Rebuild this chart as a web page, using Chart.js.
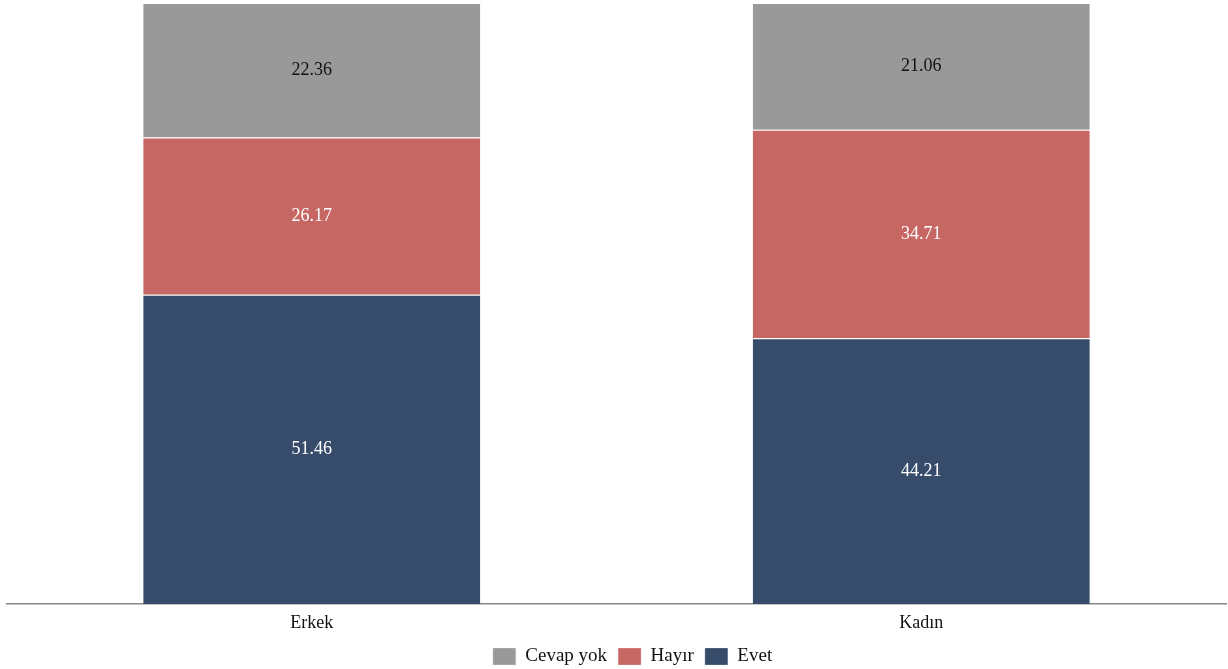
<!DOCTYPE html>
<html>
<head>
<meta charset="utf-8">
<script src="https://cdn.jsdelivr.net/npm/chart.js@4/dist/chart.umd.min.js"></script>
<style>
  html, body { margin: 0; padding: 0; background: #fff; }
  #wrap { width: 1228px; height: 669px; }
</style>
</head>
<body>
<div id="wrap"><canvas id="chart"></canvas></div>
<script>
const categories = ['Erkek', 'Kadın'];
const evet = [51.46, 44.21];
const hayir = [26.17, 34.71];
const cevapYok = [22.36, 21.06];

const font = 'Liberation Serif, Times New Roman, serif';

// etiketleri segmentlerin ortasına yaz
const valueLabels = {
    id: 'valueLabels',
    afterDatasetsDraw(chart) {
        const ctx = chart.ctx;
        ctx.save();
        ctx.font = '18px ' + font;
        ctx.textAlign = 'center';
        ctx.textBaseline = 'middle';
        chart.data.datasets.forEach((ds, i) => {
            const meta = chart.getDatasetMeta(i);
            meta.data.forEach((bar, j) => {
                const y = (bar.y + bar.base) / 2;
                ctx.fillStyle = ds.labelColor;
                ctx.fillText(ds.data[j].toFixed(2), bar.x, y);
            });
        });
        ctx.restore();
    }
};

// legend biraz saga kayik
const legendShift = {
    id: 'legendShift',
    afterLayout(chart) {
        if (chart.legend) {
            chart.legend.left += 16;
            chart.legend.right += 16;
        }
    }
};

new Chart(document.getElementById('chart'), {
    type: 'bar',
    data: {
        labels: categories,
        datasets: [
            { label: 'Evet', data: evet, backgroundColor: '#374b6b', labelColor: '#ffffff' },
            { label: 'Hayır', data: hayir, backgroundColor: '#c76763', labelColor: '#ffffff' },
            { label: 'Cevap yok', data: cevapYok, backgroundColor: '#999999', labelColor: '#111111' }
        ].map(d => Object.assign(d, {
            borderColor: '#ffffff',
            borderWidth: { top: 1, bottom: 0, left: 0, right: 0 },
            borderSkipped: false,
            barPercentage: 0.553,
            categoryPercentage: 1
        }))
    },
    options: {
        responsive: true,
        maintainAspectRatio: false,
        animation: false,
        layout: { padding: { left: 7, right: 2, top: 3, bottom: -7 } },
        plugins: {
            legend: {
                position: 'bottom',
                reverse: true,
                labels: {
                    font: { family: font, size: 19 },
                    color: '#111',
                    boxWidth: 23,
                    boxHeight: 17,
                    padding: 11
                }
            },
            tooltip: { enabled: false }
        },
        scales: {
            x: {
                stacked: true,
                grid: { display: false },
                border: { display: true, color: '#888', width: 1.5 },
                ticks: { font: { family: font, size: 18 }, color: '#111', padding: 0 },
                afterFit(scale) { scale.height = 32; }
            },
            y: {
                stacked: true,
                display: false,
                min: 0,
                max: 100
            }
        }
    },
    plugins: [valueLabels, legendShift]
});
</script>
</body>
</html>
